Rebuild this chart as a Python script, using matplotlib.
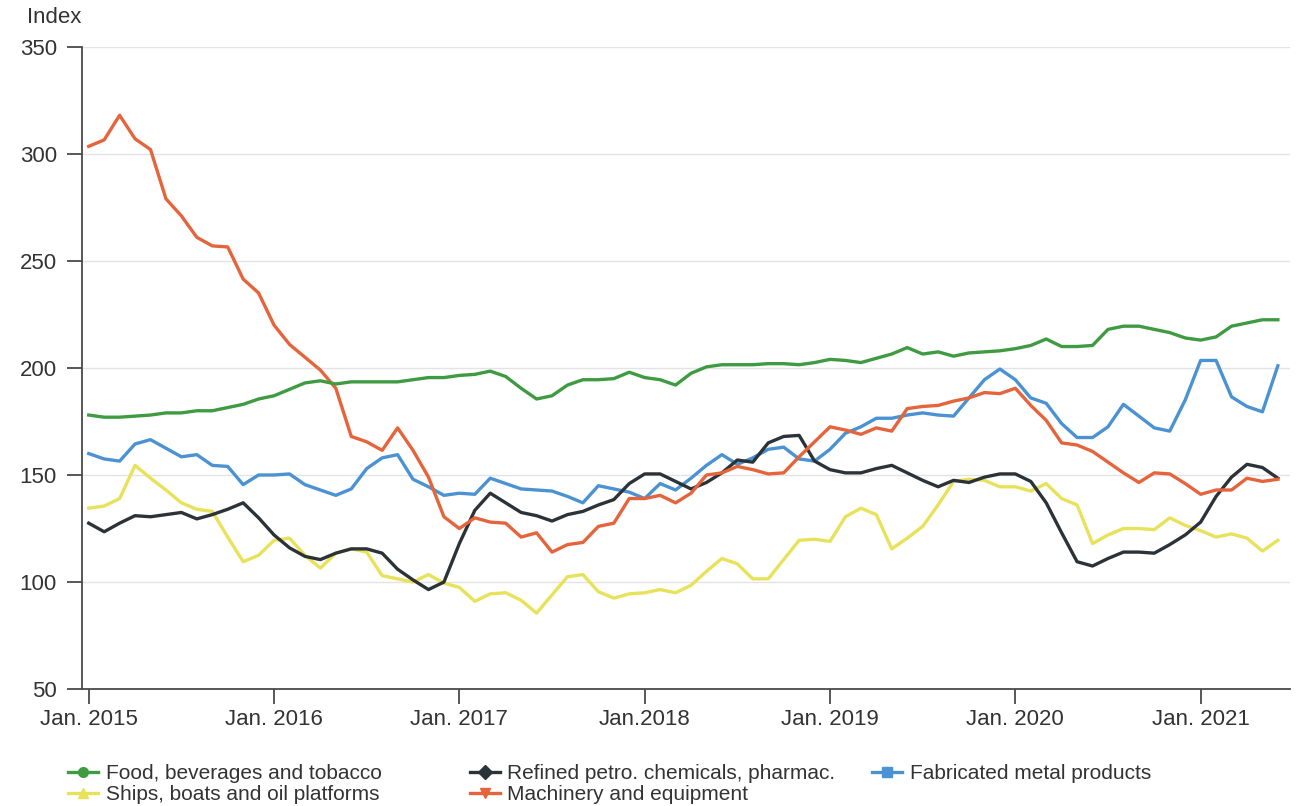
import matplotlib
matplotlib.use("Agg")
import matplotlib.pyplot as plt
from matplotlib.lines import Line2D

plt.rcParams["font.family"] = ["Liberation Sans", "DejaVu Sans"]

# monthly index values, Jan. 2015 - Jun. 2021
food = [178, 177, 177, 177.5, 178, 179, 179, 180, 180, 181.5, 183, 185.5,
        187, 190, 193, 194, 192.5, 193.5, 193.5, 193.5, 193.5, 194.5, 195.5, 195.5,
        196.5, 197, 198.5, 196, 190.5, 185.5, 187, 192, 194.5, 194.5, 195, 198,
        195.5, 194.5, 192, 197.5, 200.5, 201.5, 201.5, 201.5, 202, 202, 201.5, 202.5,
        204, 203.5, 202.5, 204.5, 206.5, 209.5, 206.5, 207.5, 205.5, 207, 207.5, 208,
        209, 210.5, 213.5, 210, 210, 210.5, 218, 219.5, 219.5, 218, 216.5, 214,
        213, 214.5, 219.5, 221, 222.5, 222.5]
refined = [127.5, 123.5, 127.5, 131, 130.5, 131.5, 132.5, 129.5, 131.5, 134, 137, 130,
           122, 116, 112, 110.5, 113.5, 115.5, 115.5, 113.5, 106, 101, 96.5, 100,
           118, 133.5, 141.5, 137, 132.5, 131, 128.5, 131.5, 133, 136, 138.5, 146,
           150.5, 150.5, 147, 143.5, 146.5, 151, 157, 156, 165, 168, 168.5, 156.5,
           152.5, 151, 151, 153, 154.5, 151, 147.5, 144.5, 147.5, 146.5, 149, 150.5,
           150.5, 147, 137, 123, 109.5, 107.5, 111, 114, 114, 113.5, 117.5, 122,
           128, 140, 149, 155, 153.5, 148.5]
metal = [160, 157.5, 156.5, 164.5, 166.5, 162.5, 158.5, 159.5, 154.5, 154, 145.5, 150,
         150, 150.5, 145.5, 143, 140.5, 143.5, 153, 158, 159.5, 148, 144.5, 140.5,
         141.5, 141, 148.5, 146, 143.5, 143, 142.5, 140, 137, 145, 143.5, 142,
         139, 146, 143, 148.5, 154.5, 159.5, 155, 158, 162, 163, 157.5, 156.5,
         162, 169.5, 172.5, 176.5, 176.5, 178, 179, 178, 177.5, 186, 194.5, 199.5,
         194.5, 186, 183.5, 174, 167.5, 167.5, 172.5, 183, 177.5, 172, 170.5, 185,
         203.5, 203.5, 186.5, 182, 179.5, 201]
ships = [134.5, 135.5, 139, 154.5, 148.5, 143, 137, 134, 133, 121, 109.5, 112.5,
         119.5, 120.5, 112.5, 106.5, 113.5, 115.5, 114, 103, 101.5, 100, 103.5, 99.5,
         97.5, 91, 94.5, 95, 91.5, 85.5, 94, 102.5, 103.5, 95.5, 92.5, 94.5,
         95, 96.5, 95, 98.5, 105, 111, 108.5, 101.5, 101.5, 110.5, 119.5, 120,
         119, 130.5, 134.5, 131.5, 115.5, 120.5, 126, 136, 147, 148, 147.5, 144.5,
         144.5, 142.5, 146, 139, 136, 118, 122, 125, 125, 124.5, 130, 126.5,
         124, 121, 122.5, 120.5, 114.5, 119.5]
machinery = [303.5, 306.5, 318, 307, 302, 279, 271, 261, 257, 256.5, 241.5, 235,
             220, 211, 205, 199, 190.5, 168, 165.5, 161.5, 172, 161.5, 149, 130.5,
             125, 130, 128, 127.5, 121, 123, 114, 117.5, 118.5, 126, 127.5, 139,
             139, 140.5, 137, 141.5, 150, 151, 154, 152.5, 150.5, 151, 158.5, 165.5,
             172.5, 171, 169, 172, 170.5, 181, 182, 182.5, 184.5, 186, 188.5, 188,
             190.5, 182.5, 175.5, 165, 164, 161, 156, 151, 146.5, 151, 150.5, 146,
             141, 143, 143, 148.5, 147, 148]

tick_pos = [0, 12, 24, 36, 48, 60, 72]
tick_labels = ["Jan. 2015", "Jan. 2016", "Jan. 2017", "Jan.2018",
               "Jan. 2019", "Jan. 2020", "Jan. 2021"]

series = [
    ("Food, beverages and tobacco", food, "#3f9b42", "o"),
    ("Ships, boats and oil platforms", ships, "#e8e25a", "^"),
    ("Refined petro. chemicals, pharmac.", refined, "#2c3338", "D"),
    ("Machinery and equipment", machinery, "#e5643b", "v"),
    ("Fabricated metal products", metal, "#4b92d3", "s"),
]
draw_order = [1, 4, 2, 3, 0]

fig = plt.figure(figsize=(12.98, 8.06), dpi=100)
ax = fig.add_axes([0.063, 0.145, 0.931, 0.797])

for i in draw_order:
    name, values, color, _ = series[i]
    ax.plot(range(len(values)), values, color=color, lw=2.4, solid_joinstyle="round")

ax.set_xlim(-0.45, 77.8)
ax.set_ylim(50, 350)
ax.set_yticks(range(50, 351, 50))
ax.set_xticks(tick_pos)
ax.set_xticklabels(tick_labels)
ax.grid(axis="y", color="#e3e3e3", lw=1)
ax.set_axisbelow(True)
for side in ("top", "right"):
    ax.spines[side].set_visible(False)
for side in ("left", "bottom"):
    ax.spines[side].set_color("#4a4a4a")
    ax.spines[side].set_linewidth(1.3)
ax.tick_params(axis="both", colors="#4a4a4a", labelcolor="#333333", labelsize=16,
               length=11, width=1.3)
ax.tick_params(axis="x", pad=3)
ax.tick_params(axis="y", pad=7)

fig.text(0.021, 0.978, "Index", fontsize=16, color="#333333", va="center")

# legend placed by column to match the spacing in the original
col_x = [0.0524, 0.362, 0.672]
cols = [[0, 1], [2, 3], [4]]
for x, idx in zip(col_x, cols):
    handles = [Line2D([], [], color=series[i][2], lw=2.4, marker=series[i][3],
                      markersize=7) for i in idx]
    leg = fig.legend(handles, [series[i][0] for i in idx], loc="upper left",
                     bbox_to_anchor=(x, 0.052), frameon=False, fontsize=15,
                     handlelength=1.45, handletextpad=0.35, labelspacing=0.1,
                     borderaxespad=0, borderpad=0)
    for t in leg.get_texts():
        t.set_color("#333333")

fig.savefig("out.png", dpi=100)
